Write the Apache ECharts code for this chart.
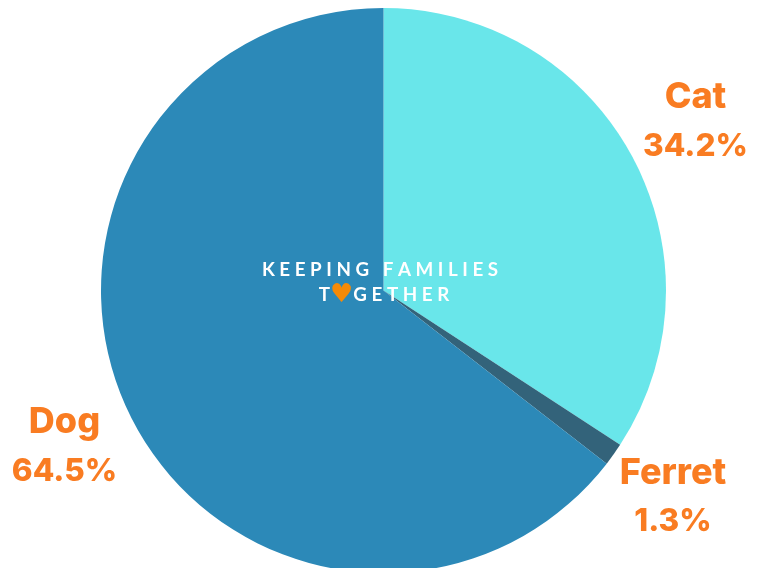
<!DOCTYPE html>
<html><head><meta charset="utf-8">
<style>html,body{margin:0;padding:0;background:#fff}#c{width:761px;height:568px}</style>
<script src="https://cdn.jsdelivr.net/npm/echarts@6/dist/echarts.min.js"></script>
</head><body><div id="c"></div>
<script>
const categories = ['Cat','Ferret','Dog'];
const values = [34.2,1.3,64.5];
const colors = ['#69E6EA','#33637A','#2C89B8'];
const labelCenters = [[695.5,122],[673,497.5],[64.5,447]];
const centerLine1 = 'K E E P I N G   F A M I L I E S';
const chart = echarts.init(document.getElementById('c'),null,{renderer:'canvas'});
chart.setOption({
  animation:false,
  backgroundColor:'#fff',
  series:[{
    type:'pie',
    center:[383.5,290.5],
    radius:[0,282.5],
    startAngle:90,
    clockwise:true,
    z:2,
    data:categories.map((n,i)=>({name:n,value:values[i],itemStyle:{color:colors[i]}})),
    label:{
      show:true,position:'outside',overflow:'none',
      formatter:p=>'{n|'+p.name+'}\n{v|'+p.value.toFixed(1)+'%}',
      rich:{
        n:{color:'#F97C22',fontFamily:'Inter',fontWeight:800,fontSize:36,lineHeight:49,align:'center'},
        v:{color:'#F97C22',fontFamily:'Inter',fontWeight:800,fontSize:31.5,lineHeight:49,align:'center'}
      },
      align:'center',verticalAlign:'middle'
    },
    labelLine:{show:false},
    labelLayout:p=>({x:labelCenters[p.dataIndex][0],y:labelCenters[p.dataIndex][1],align:'center',verticalAlign:'middle'}),
    emphasis:{disabled:true}
  }],
  graphic:[
    {type:'text',z:100,x:380,y:270,style:{text:centerLine1,fill:'#fff',fontFamily:'Lato',fontWeight:700,fontSize:18.8,align:'center',verticalAlign:'middle'}},
    {type:'text',z:100,x:384,y:295,style:{
      text:'T{h|♥}G E T H E R',
      rich:{h:{fill:'#F58A07',fontSize:26,fontFamily:'DejaVu Sans'}},
      fill:'#fff',fontFamily:'Lato',fontWeight:700,fontSize:18.8,align:'center',verticalAlign:'middle'}}
  ]
});
</script></body></html>
